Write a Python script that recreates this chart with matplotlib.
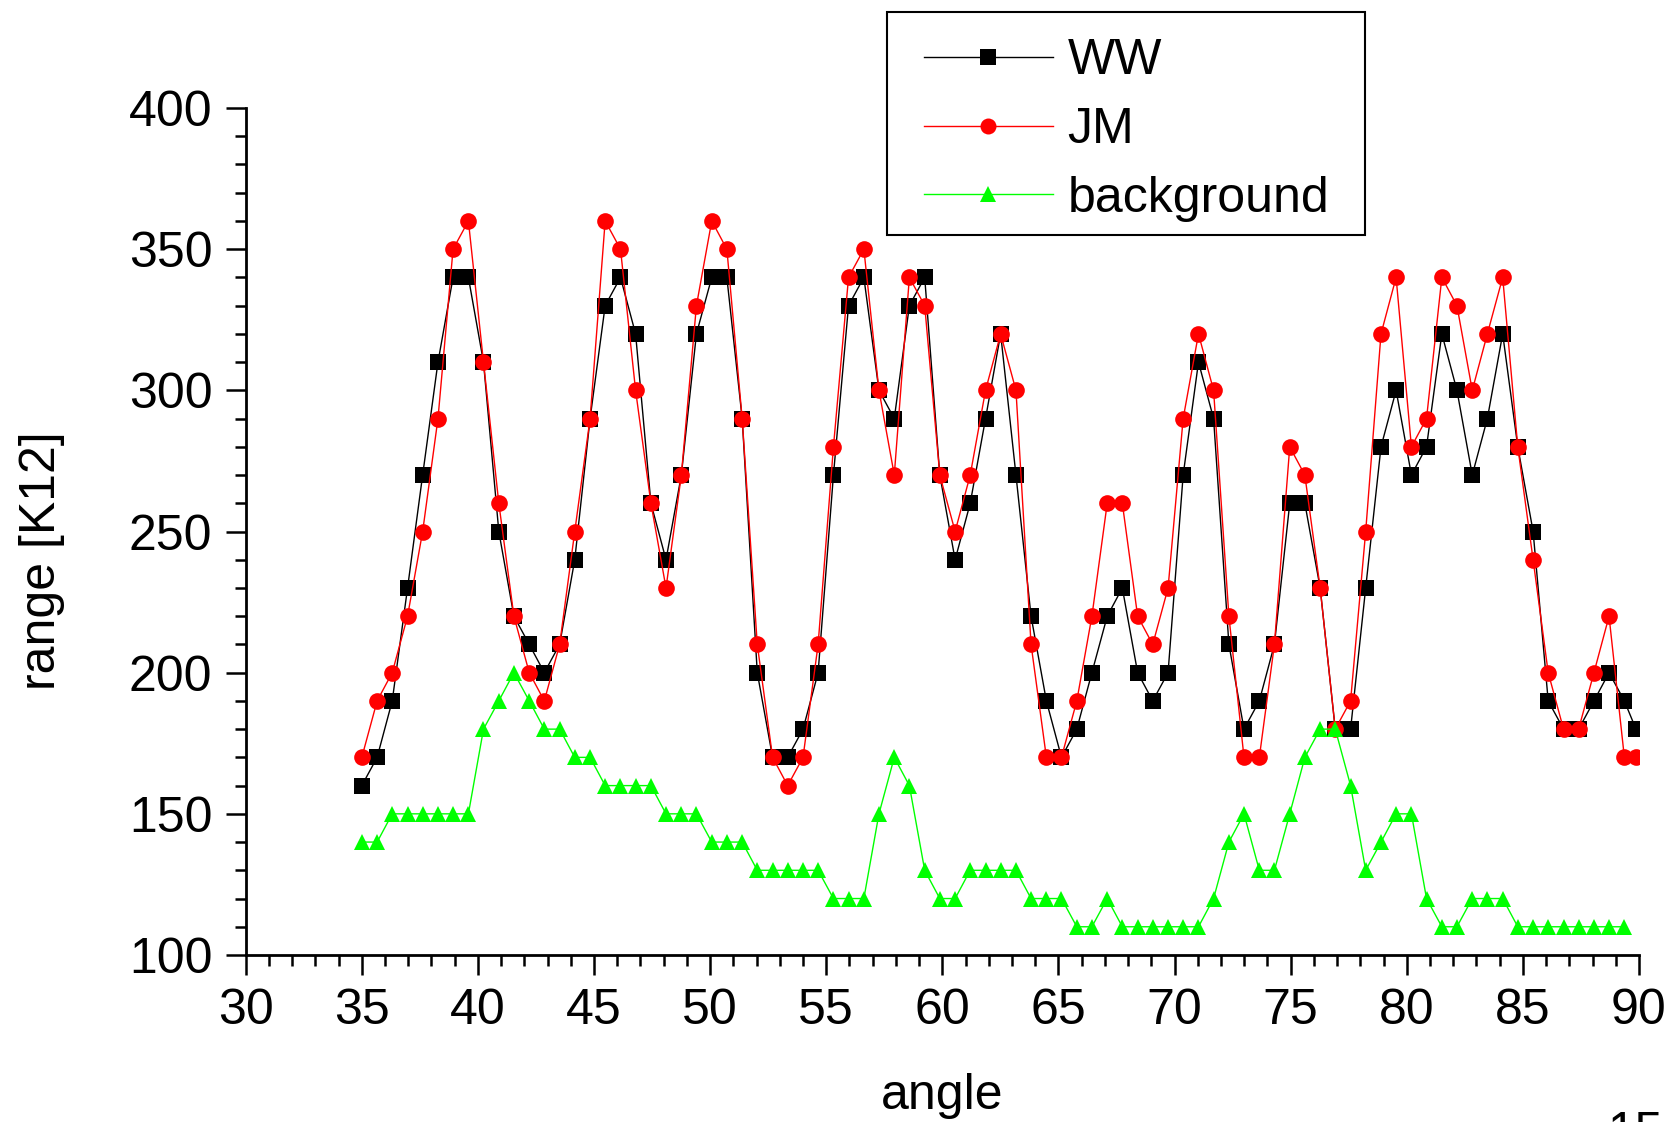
import matplotlib
matplotlib.use("Agg")
import matplotlib.pyplot as plt
from matplotlib.ticker import MultipleLocator
from matplotlib.lines import Line2D
from matplotlib.patches import Rectangle
from matplotlib.legend_handler import HandlerLine2D

plt.rcParams['font.family'] = ['Liberation Sans', 'DejaVu Sans']

angle = [35.00, 35.66, 36.31, 36.97, 37.62, 38.28, 38.93, 39.59, 40.24, 40.90,
         41.55, 42.21, 42.86, 43.52, 44.17, 44.83, 45.48, 46.14, 46.79, 47.45,
         48.10, 48.76, 49.41, 50.07, 50.72, 51.38, 52.03, 52.69, 53.34, 54.00,
         54.65, 55.31, 55.96, 56.62, 57.27, 57.93, 58.58, 59.24, 59.89, 60.55,
         61.20, 61.86, 62.51, 63.17, 63.82, 64.48, 65.13, 65.79, 66.44, 67.10,
         67.75, 68.41, 69.06, 69.72, 70.37, 71.03, 71.68, 72.34, 72.99, 73.65,
         74.30, 74.96, 75.61, 76.27, 76.92, 77.58, 78.23, 78.89, 79.54, 80.20,
         80.85, 81.51, 82.16, 82.82, 83.47, 84.13, 84.78, 85.44, 86.09, 86.75,
         87.40, 88.06, 88.71, 89.37, 89.87]

ww = [160, 170, 190, 230, 270, 310, 340, 340, 310, 250,
      220, 210, 200, 210, 240, 290, 330, 340, 320, 260,
      240, 270, 320, 340, 340, 290, 200, 170, 170, 180,
      200, 270, 330, 340, 300, 290, 330, 340, 270, 240,
      260, 290, 320, 270, 220, 190, 170, 180, 200, 220,
      230, 200, 190, 200, 270, 310, 290, 210, 180, 190,
      210, 260, 260, 230, 180, 180, 230, 280, 300, 270,
      280, 320, 300, 270, 290, 320, 280, 250, 190, 180,
      180, 190, 200, 190, 180]

jm = [170, 190, 200, 220, 250, 290, 350, 360, 310, 260,
      220, 200, 190, 210, 250, 290, 360, 350, 300, 260,
      230, 270, 330, 360, 350, 290, 210, 170, 160, 170,
      210, 280, 340, 350, 300, 270, 340, 330, 270, 250,
      270, 300, 320, 300, 210, 170, 170, 190, 220, 260,
      260, 220, 210, 230, 290, 320, 300, 220, 170, 170,
      210, 280, 270, 230, 180, 190, 250, 320, 340, 280,
      290, 340, 330, 300, 320, 340, 280, 240, 200, 180,
      180, 200, 220, 170, 170]

background = [140, 140, 150, 150, 150, 150, 150, 150, 180, 190,
              200, 190, 180, 180, 170, 170, 160, 160, 160, 160,
              150, 150, 150, 140, 140, 140, 130, 130, 130, 130,
              130, 120, 120, 120, 150, 170, 160, 130, 120, 120,
              130, 130, 130, 130, 120, 120, 120, 110, 110, 120,
              110, 110, 110, 110, 110, 110, 120, 140, 150, 130,
              130, 150, 170, 180, 180, 160, 130, 140, 150, 150,
              120, 110, 110, 120, 120, 120, 110, 110, 110, 110,
              110, 110, 110, 110]

labels = ['WW', 'JM', 'background']
xticks = [30, 35, 40, 45, 50, 55, 60, 65, 70, 75, 80, 85, 90]
yticks = [100, 150, 200, 250, 300, 350, 400]

W, H = 1674, 1122
fig = plt.figure(figsize=(W / 100, H / 100), dpi=100)
ax = fig.add_axes([245.7 / W, 1 - 955 / H, (1639 - 245.7) / W, (955 - 108) / H])

ax.plot(angle, ww, color='black', lw=1.0, marker='s', ms=11.3,
        markeredgewidth=0, label=labels[0], zorder=3)
ax.plot(angle, jm, color='#ff0000', lw=1.0, marker='o', ms=12.0,
        markeredgewidth=0, label=labels[1], zorder=4)
ax.plot(angle[:len(background)], background, color='#00ff00', lw=1.0, marker='^',
        ms=12.0, markeredgewidth=0, label=labels[2], zorder=5)

ax.set_xlim(30, 90)
ax.set_ylim(100, 400)
ax.set_xticks(xticks)
ax.set_yticks(yticks)
ax.xaxis.set_minor_locator(MultipleLocator(1))
ax.yaxis.set_minor_locator(MultipleLocator(10))

for s in ['top', 'right']:
    ax.spines[s].set_visible(False)
for s in ['left', 'bottom']:
    ax.spines[s].set_linewidth(2.0)

ax.tick_params(axis='both', which='major', direction='out', length=14.5,
               width=1.8, labelsize=36, colors='black')
ax.tick_params(axis='both', which='minor', direction='out', length=8, width=1.8)
ax.tick_params(axis='x', which='major', pad=9.5)
ax.tick_params(axis='y', which='major', pad=9.5)

ax.set_xlabel('angle', fontsize=36)
ax.set_ylabel('range [K12]', fontsize=36)
ax.xaxis.set_label_coords(0.5, -0.139)
ax.yaxis.set_label_coords(-0.130, 0.466)

# legend frame drawn as a plain rectangle in figure coordinates
fig.patches.append(Rectangle((887 / W, 1 - 235 / H), (1365 - 887) / W, (235 - 12) / H,
                             transform=fig.transFigure, facecolor='white',
                             edgecolor='black', linewidth=1.5, zorder=1))

leg = fig.legend(loc='upper left', bbox_to_anchor=(887 / W, 1 - 12 / H),
                 fontsize=36, frameon=False,
                 handlelength=2.78, handletextpad=0.3, borderpad=0.53,
                 labelspacing=0.45, borderaxespad=0, numpoints=1,
                 handler_map={Line2D: HandlerLine2D(xpad=0.21)})
leg.set_zorder(10)
for h in leg.legend_handles:
    h.set_markersize(11.5)

fig.text(1607 / W, 1 - 1111 / H, '15', fontsize=36, ha='left', va='top')

fig.savefig('out.png', dpi=100)
